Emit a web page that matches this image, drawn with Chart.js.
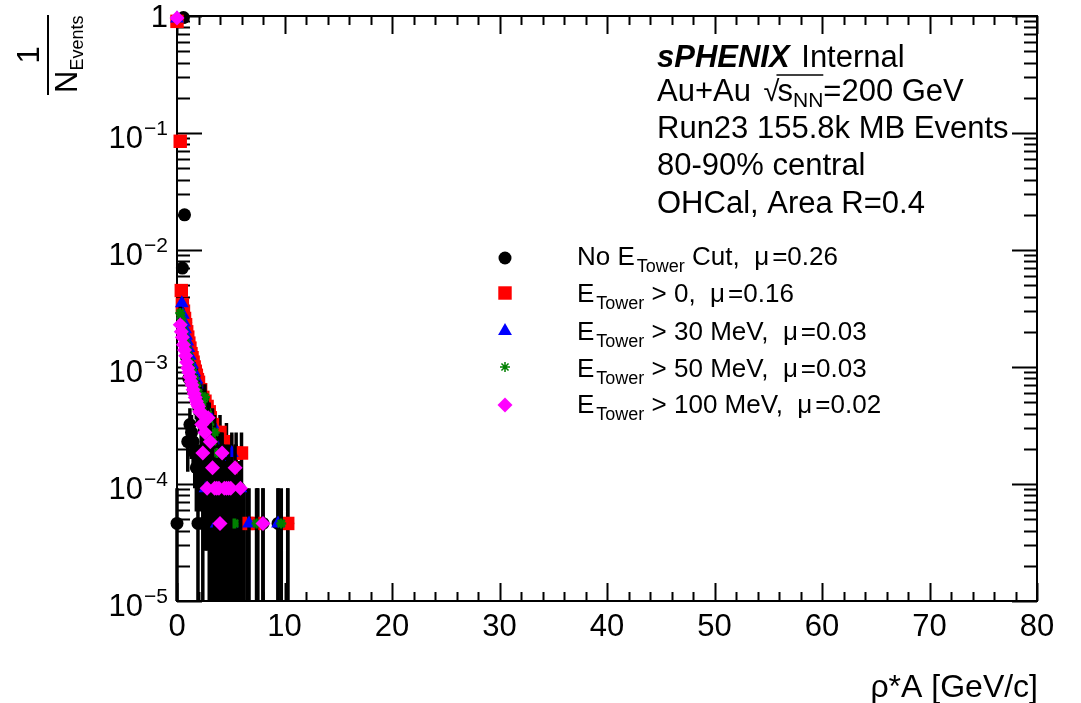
<!DOCTYPE html>
<html><head><meta charset="utf-8">
<script src="https://cdn.jsdelivr.net/npm/chart.js@4.4.1/dist/chart.umd.min.js"></script>
<style>html,body{margin:0;padding:0;background:#fff;overflow:hidden}</style>
</head><body>
<canvas id="c" width="1081" height="703"></canvas>
<script>
// ---------------- data ----------------
const N_EVENTS = 21750;            // 1 entry = 4.6e-5 after normalisation
const BIN_HALF_WIDTH = 0.1;        // GeV, horizontal error bar
const xTickValues = [0, 10, 20, 30, 40, 50, 60, 70, 80];
const xTickLabels = ['0', '10', '20', '30', '40', '50', '60', '70', '80'];
const yTickValues = [1, 1e-1, 1e-2, 1e-3, 1e-4, 1e-5];
const yTickExponents = ['', '\u22121', '\u22122', '\u22123', '\u22124', '\u22125'];

const seriesLabels = ['No Cut', 'E>0', 'E>30', 'E>50', 'E>100'];
const seriesMu = ['0.26', '0.16', '0.03', '0.03', '0.02'];

// No E_Tower cut
const blackX = [0.0, 0.5, 0.6, 0.7, 0.8, 0.9, 1.0, 1.1, 1.2, 1.35, 1.5, 1.65, 1.8,
  1.95, 2.1, 2.25, 2.4, 2.55, 2.7, 2.85, 3.0, 3.15, 3.3, 3.4, 3.5, 3.6, 3.7, 3.8, 3.9, 4.0, 4.1, 4.2,
  4.3, 4.4, 4.5, 4.6, 4.7, 4.8, 4.9, 5.0, 5.1, 5.2, 5.3, 5.4, 5.5, 5.6, 5.7, 5.8, 5.9, 6.0, 6.1, 6.2, 7.5, 8.0, 9.4, 10.3];
const blackY = [4.6e-5, 7.0e-3, 0.97, 0.020, 2.4e-3, 1.2e-3, 2.3e-4, 8.0e-4, 3.22e-4, 2.76e-4, 2.3e-4, 1.84e-4, 1.38e-4,
  4.6e-5, 1.38e-4, 1.84e-4, 4.6e-5, 1.38e-4, 9.2e-5, 1.84e-4, 4.6e-5, 1.38e-4, 4.6e-5, 9.2e-5, 4.6e-5, 1.38e-4, 4.6e-5, 9.2e-5, 4.6e-5, 1.38e-4, 4.6e-5, 4.6e-5,
  9.2e-5, 4.6e-5, 4.6e-5, 1.38e-4, 4.6e-5, 4.6e-5, 9.2e-5, 4.6e-5, 4.6e-5, 9.2e-5, 4.6e-5, 4.6e-5, 1.38e-4, 4.6e-5, 4.6e-5, 9.2e-5, 4.6e-5, 4.6e-5, 4.6e-5, 4.6e-5, 4.6e-5, 4.6e-5, 4.6e-5, 4.6e-5];

// E_Tower > 0
const redX = [0.0, 0.3, 0.4, 0.5, 0.6, 0.7, 0.8, 0.9, 1.0, 1.1, 1.2, 1.3, 1.4, 1.5, 1.6, 1.7, 1.8, 1.9, 2.0,
  2.2, 2.4, 2.6, 2.8, 3.0, 3.1, 3.3, 3.5, 3.8, 4.0, 4.3, 4.6, 5.0, 5.5, 6.0, 6.5, 7.5, 10.3];
const redY = [0.90, 0.085, 4.5e-3, 3.4e-3, 3.0e-3, 2.6e-3, 2.3e-3, 2.0e-3, 1.8e-3, 1.6e-3, 1.45e-3, 1.3e-3, 1.2e-3, 1.1e-3, 1.0e-3, 9.2e-4, 8.5e-4, 7.8e-4, 7.4e-4,
  6.4e-4, 5.5e-4, 5.1e-4, 4.6e-4, 4.14e-4, 3.68e-4, 3.22e-4, 2.76e-4, 2.3e-4, 2.76e-4, 1.84e-4, 2.3e-4, 1.38e-4, 1.84e-4, 1.84e-4, 4.6e-5, 4.6e-5, 4.6e-5];

// E_Tower > 30 MeV
const blueX = [0.0, 0.45, 0.55, 0.65, 0.75, 0.85, 0.95, 1.05, 1.2, 1.4, 1.6, 1.8, 2.0, 2.2, 2.4, 2.65, 2.8,
  3.0, 3.3, 3.5, 3.7, 3.9, 4.2, 4.5, 4.8, 5.1, 5.2, 5.9, 6.7, 9.4];
const blueY = [0.95, 3.5e-3, 2.8e-3, 2.4e-3, 2.1e-3, 1.85e-3, 1.65e-3, 1.45e-3, 1.25e-3, 1.05e-3, 9.0e-4, 7.8e-4, 6.8e-4, 5.8e-4, 5.0e-4, 9.2e-5, 4.14e-4,
  3.68e-4, 3.22e-4, 2.3e-4, 4.6e-5, 1.84e-4, 1.38e-4, 1.38e-4, 9.2e-5, 1.84e-4, 4.6e-5, 9.2e-5, 4.6e-5, 4.6e-5];

// E_Tower > 50 MeV
const greenX = [0.0, 0.3, 0.4, 0.5, 0.6, 0.7, 0.8, 0.9, 1.0, 1.2, 1.4, 1.6, 1.8, 2.0, 2.2, 2.4, 2.6, 2.8,
  3.0, 3.3, 3.5, 3.7, 3.9, 4.1, 4.3, 4.5, 4.8, 5.2, 5.4, 5.9, 7.4, 9.7];
const greenY = [0.95, 2.9e-3, 2.6e-3, 2.3e-3, 2.0e-3, 1.8e-3, 1.6e-3, 1.45e-3, 1.3e-3, 1.1e-3, 9.4e-4, 8.0e-4, 6.9e-4, 6.0e-4, 5.5e-4, 5.0e-4, 5.52e-4, 4.14e-4,
  3.22e-4, 2.3e-4, 2.76e-4, 1.84e-4, 1.38e-4, 1.84e-4, 1.38e-4, 9.2e-5, 1.38e-4, 4.6e-5, 4.6e-5, 9.2e-5, 4.6e-5, 4.6e-5];

// E_Tower > 100 MeV
const pinkX = [0.0, 0.3, 0.4, 0.5, 0.6, 0.7, 0.8, 0.9, 1.0, 1.1, 1.2, 1.3, 1.4, 1.5, 1.6, 1.7, 1.8, 1.9, 2.0,
  2.1, 2.2, 2.3, 2.4, 2.6, 2.8, 2.9, 3.1, 3.3, 3.5, 3.7, 3.9, 4.0, 4.2, 4.4, 4.6, 4.8, 5.0, 5.4, 5.9, 8.0];
const pinkY = [0.96, 2.3e-3, 2.0e-3, 1.8e-3, 1.55e-3, 1.4e-3, 1.25e-3, 1.1e-3, 9.8e-4, 9.0e-4, 8.2e-4, 7.5e-4, 7.0e-4, 6.4e-4, 5.9e-4, 5.5e-4, 5.1e-4, 4.8e-4, 4.6e-4,
  4.14e-4, 4.14e-4, 3.22e-4, 1.84e-4, 2.76e-4, 9.2e-5, 3.68e-4, 2.3e-4, 1.38e-4, 9.2e-5, 9.2e-5, 9.2e-5, 4.6e-5, 1.84e-4, 9.2e-5, 9.2e-5, 9.2e-5, 9.2e-5, 1.38e-4, 9.2e-5, 4.6e-5];

// ---------------- chart ----------------
const FONT = "'Liberation Sans', Arial, Helvetica, sans-serif";
const zip = (xs, ys) => xs.map((x, i) => ({ x: x, y: ys[i] }));

const styles = [
  { color: '#000000', pointStyle: 'circle', radius: 6.5, order: 4 },
  { color: '#ff0000', pointStyle: 'rect', radius: 9.5, order: 3 },
  { color: '#0000ff', pointStyle: 'triangle', radius: 8, order: 2 },
  { color: '#008000', pointStyle: 'star', radius: 5, order: 1 },
  { color: '#ff00ff', pointStyle: 'rectRot', radius: 7.5, order: 0 }
];
const allX = [blackX, redX, blueX, greenX, pinkX];
const allY = [blackY, redY, blueY, greenY, pinkY];

const datasets = styles.map((s, i) => ({
  label: seriesLabels[i],
  data: zip(allX[i], allY[i]),
  showLine: false,
  pointStyle: s.pointStyle,
  pointRadius: s.radius,
  pointBackgroundColor: s.color,
  pointBorderColor: s.color,
  pointBorderWidth: s.pointStyle === 'star' ? 2.5 : 0,
  clip: false,
  order: s.order
}));

function drawSub(ctx, parts, x, y) {
  let cx = x;
  parts.forEach(p => {
    ctx.font = (p[3] ? p[3] + ' ' : '') + p[1] + 'px ' + FONT;
    ctx.fillText(p[0], cx, y + (p[2] || 0));
    cx += ctx.measureText(p[0]).width + (p[4] || 0);
  });
  return cx;
}

const errorBars = {
  id: 'errorBars',
  beforeDatasetDraw(chart, args) {
    const ds = chart.data.datasets[args.index];
    const xs = chart.scales.x, ys = chart.scales.y, ctx = chart.ctx;
    ctx.save();
    ctx.strokeStyle = '#000';
    ctx.lineWidth = 3.5;
    ctx.beginPath();
    ds.data.forEach(p => {
      const e = Math.sqrt(p.y / N_EVENTS);
      const px = xs.getPixelForValue(p.x);
      const py = ys.getPixelForValue(p.y);
      const top = ys.getPixelForValue(p.y + e);
      const lo = p.y - e;
      const bot = lo > ys.min ? ys.getPixelForValue(lo) : chart.chartArea.bottom;
      ctx.moveTo(px, top);
      ctx.lineTo(px, bot);
      ctx.moveTo(xs.getPixelForValue(Math.max(0, p.x - BIN_HALF_WIDTH)), py);
      ctx.lineTo(xs.getPixelForValue(p.x + BIN_HALF_WIDTH), py);
    });
    ctx.stroke();
    ctx.restore();
  }
};

const frame = {
  id: 'frame',
  beforeDatasetsDraw(chart) {
    const ctx = chart.ctx, a = chart.chartArea;
    const xs = chart.scales.x, ys = chart.scales.y;
    ctx.save();
    ctx.strokeStyle = '#000';
    ctx.fillStyle = '#000';
    ctx.lineWidth = 2;
    ctx.beginPath();
    for (let v = 0; v <= 80; v += 2) {
      const px = Math.round(xs.getPixelForValue(v)) + 0.5;
      const len = (v % 10 === 0) ? 18 : 9;
      ctx.moveTo(px, a.bottom); ctx.lineTo(px, a.bottom - len);
      ctx.moveTo(px, a.top); ctx.lineTo(px, a.top + len);
    }
    for (let e = -5; e <= 0; e++) {
      for (let k = 1; k <= 9; k++) {
        const v = k * Math.pow(10, e);
        if (v > 1.0001) break;
        const py = Math.round(ys.getPixelForValue(v)) + 0.5;
        const len = (k === 1) ? 25 : 13;
        ctx.moveTo(a.left, py); ctx.lineTo(a.left + len, py);
        ctx.moveTo(a.right, py); ctx.lineTo(a.right - len, py);
      }
    }
    ctx.stroke();
    ctx.strokeRect(a.left, a.top, a.right - a.left, a.bottom - a.top);

    ctx.font = '31px ' + FONT;
    ctx.textAlign = 'center';
    ctx.textBaseline = 'alphabetic';
    xTickValues.forEach((v, i) => {
      ctx.fillText(xTickLabels[i], xs.getPixelForValue(v), 636);
    });
    ctx.textAlign = 'right';
    yTickValues.forEach((v, i) => {
      const py = ys.getPixelForValue(v);
      const rx = 168;
      if (!yTickExponents[i]) {
        ctx.font = '31px ' + FONT;
        ctx.fillText('1', rx, py + 11);
      } else {
        ctx.font = '21px ' + FONT;
        const ew = ctx.measureText(yTickExponents[i]).width;
        ctx.fillText(yTickExponents[i], rx, py + 2);
        ctx.font = '31px ' + FONT;
        ctx.fillText('10', rx - ew - 1, py + 15);
      }
    });
    ctx.font = '32px ' + FONT;
    ctx.textAlign = 'right';
    ctx.fillText('\u03C1*A [GeV/c]', 1038, 697);

    ctx.beginPath();
    ctx.moveTo(48, 15); ctx.lineTo(48, 95);
    ctx.stroke();
    ctx.save();
    ctx.rotate(-Math.PI / 2);
    ctx.textAlign = 'center';
    ctx.font = '31px ' + FONT;
    ctx.fillText('1', -55, 39);
    ctx.textAlign = 'left';
    ctx.fillText('N', -93, 77);
    const nw = ctx.measureText('N').width;
    ctx.font = '18px ' + FONT;
    ctx.fillText('Events', -93 + nw, 83);
    ctx.restore();
    ctx.restore();
  },
  afterDraw(chart) {
    const ctx = chart.ctx;
    ctx.save();
    ctx.fillStyle = '#000';
    ctx.strokeStyle = '#000';
    ctx.textAlign = 'left';
    ctx.textBaseline = 'alphabetic';
    const X0 = 657;
    let cx = drawSub(ctx, [['sPHENIX', 31, 0, 'italic bold', 0]], X0, 67);
    ctx.font = '31px ' + FONT;
    ctx.fillText(' Internal', cx + 3, 67);
    ctx.fillText('Au+Au ', X0, 101);
    let x2 = X0 + ctx.measureText('Au+Au ').width + 4;
    ctx.font = '29px ' + FONT;
    ctx.fillText('\u221A', x2, 101);
    const sqrtW = ctx.measureText('\u221A').width;
    const sStart = x2 + sqrtW - 2;
    let x3 = drawSub(ctx, [['s', 31, 0], ['NN', 21, 6]], sStart, 101);
    ctx.lineWidth = 1.5;
    ctx.beginPath();
    ctx.moveTo(x2 + sqrtW - 3, 75); ctx.lineTo(x3, 75);
    ctx.stroke();
    ctx.font = '31px ' + FONT;
    ctx.fillText('=200 GeV', x3, 101);
    ctx.fillText('Run23 155.8k MB Events', X0, 138);
    ctx.fillText('80-90% central', X0, 175);
    ctx.fillText('OHCal, Area R=0.4', X0, 213);

    const rows = [
      { pre: 'No E', post: ' Cut,  ', base: 265, my: 258 },
      { pre: 'E', post: ' > 0,  ', base: 302, my: 293 },
      { pre: 'E', post: ' > 30 MeV,  ', base: 340, my: 331 },
      { pre: 'E', post: ' > 50 MeV,  ', base: 377, my: 367 },
      { pre: 'E', post: ' > 100 MeV,  ', base: 413, my: 405 }
    ];
    rows.forEach((r, i) => {
      const s = styles[i];
      ctx.fillStyle = s.color;
      ctx.strokeStyle = s.color;
      Chart.helpers.drawPoint(ctx, {
        pointStyle: s.pointStyle, radius: s.radius, rotation: 0,
        borderWidth: s.pointStyle === 'star' ? 2.5 : 0
      }, 505, r.my);
      ctx.fillStyle = '#000';
      drawSub(ctx, [[r.pre, 26, 0, '', 2], ['Tower', 18, 7], [r.post, 26, 0], ['\u03BC', 26, 0, '', 3], ['=' + seriesMu[i], 26, 0]], 577, r.base);
    });
    ctx.restore();
  }
};

new Chart(document.getElementById('c'), {
  type: 'scatter',
  data: { datasets: datasets },
  options: {
    responsive: false,
    devicePixelRatio: 1,
    animation: false,
    events: [],
    layout: { padding: { left: 177, top: 16, right: 44, bottom: 102 } },
    plugins: { legend: { display: false }, tooltip: { enabled: false } },
    scales: {
      x: { type: 'linear', min: 0, max: 80, display: false },
      y: { type: 'logarithmic', min: 1e-5, max: 1, display: false }
    }
  },
  plugins: [frame, errorBars]
});
</script>
</body></html>
